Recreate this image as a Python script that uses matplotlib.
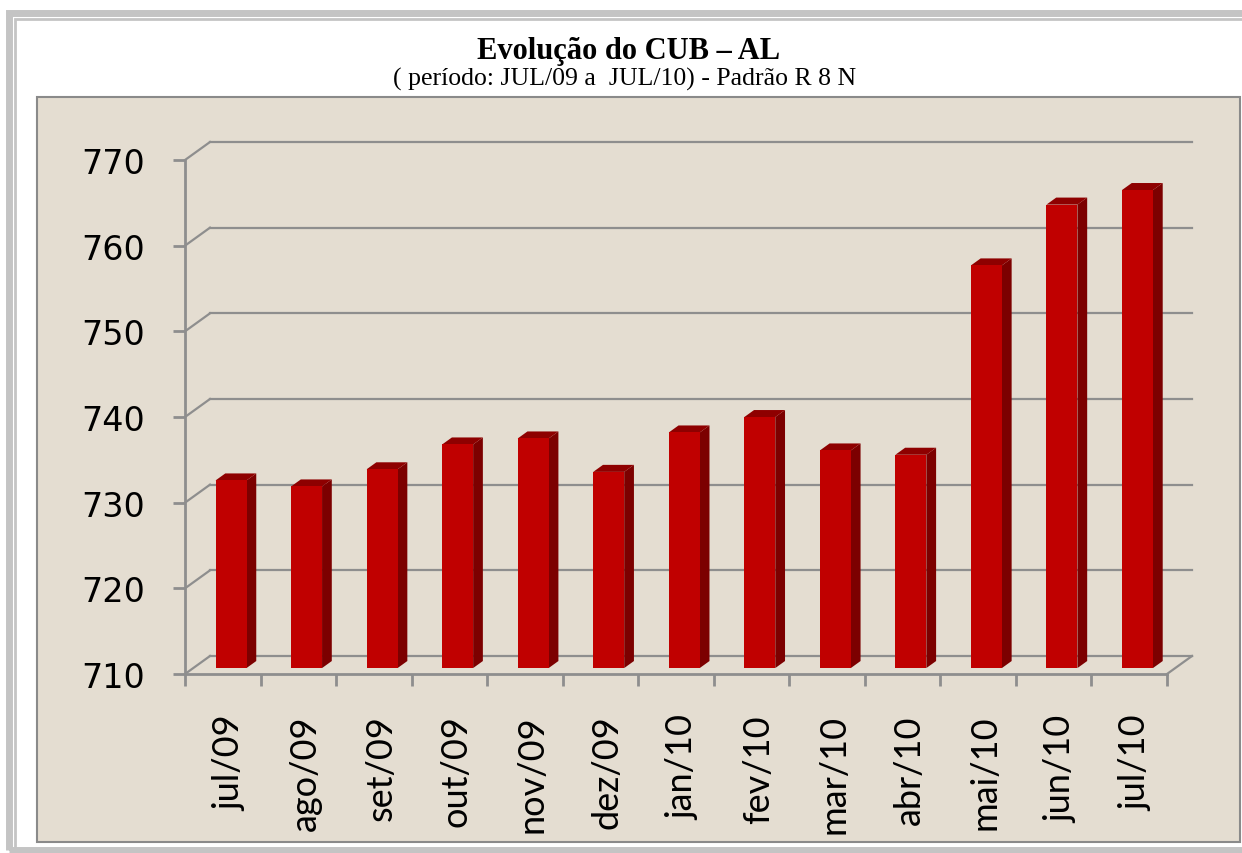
import numpy as np
import matplotlib.pyplot as plt
from matplotlib.patches import Rectangle, Polygon

months = ["jul/09", "ago/09", "set/09", "out/09", "nov/09", "dez/09", "jan/10",
          "fev/10", "mar/10", "abr/10", "mai/10", "jun/10", "jul/10"]
cub = [731.9, 731.2, 733.2, 736.1, 736.8, 732.9, 737.5,
       739.3, 735.4, 734.9, 757.0, 764.1, 765.8]
y_ticks = [710, 720, 730, 740, 750, 760, 770]

W, H = 1242, 854
fig = plt.figure(figsize=(W / 100, H / 100), dpi=100)
fig.patch.set_facecolor("white")


def fx(x):
    return x / W


def fy(y):
    return 1 - y / H


# outer frame (gray band + thin inner line)
fig.patches.append(Rectangle((fx(8.5), fy(851)), fx(W + 20), (851 - 14) / H, transform=fig.transFigure,
                             fill=False, edgecolor="#c4c4c4", lw=5, zorder=-3))
fig.patches.append(Rectangle((fx(14.5), fy(H + 20)), fx(W + 20), (H + 20 - 20) / H, transform=fig.transFigure,
                             fill=False, edgecolor="#c4c4c4", lw=2, zorder=-3))
# beige chart panel
fig.patches.append(Rectangle((fx(37), fy(843)), fx(1240 - 37), (843 - 98) / H, transform=fig.transFigure,
                             facecolor="#e4ddd1", edgecolor="#8a8a8a", lw=1.5, zorder=-2))

fig.text(fx(629), fy(59), "Evolução do CUB – AL", ha="center", va="baseline",
         fontsize=22, fontweight="bold", family="Liberation Serif")
fig.text(fx(625), fy(86), "( período: JUL/09 a  JUL/10) - Padrão R 8 N", ha="center", va="baseline",
         fontsize=18.5, family="Liberation Serif")

# front plane of the 3D box
left, right, bottom, top = 185, 1167, 675, 161
ax = fig.add_axes([fx(left), fy(bottom), fx(right - left), (bottom - top) / H])
ax.patch.set_visible(False)
n = len(months)
ax.set_xlim(-0.5, n - 0.5)
ax.set_ylim(710, 770)

# depth offset in data units
dx = 25 / ((right - left) / n)
dy = 18 / ((bottom - top) / 60)
grid_c = "#8e8e8e"

for v in y_ticks:
    ax.plot([-0.5 + dx, n - 0.5 + dx], [v + dy, v + dy], color=grid_c, lw=1.6, clip_on=False, zorder=2)
    ax.plot([-0.5, -0.5 + dx], [v, v + dy], color=grid_c, lw=1.6, clip_on=False, zorder=2)
ax.plot([n - 0.5, n - 0.5 + dx], [710, 710 + dy], color=grid_c, lw=1.6, clip_on=False, zorder=2)

# bars
z0, z1, w = 0.33, 0.72, 0.41
ddx, ddy = (z1 - z0) * dx, (z1 - z0) * dy
xs = np.arange(n) + z0 * dx
vals = np.array(cub)
ax.bar(xs, vals - 710, bottom=710 + z0 * dy, width=w, color="#c00000", zorder=4, clip_on=False)
for x, v in zip(xs, vals):
    x0, x1 = x - w / 2, x + w / 2
    yb, yt = 710 + z0 * dy, v + z0 * dy
    ax.add_patch(Polygon([(x1, yb), (x1 + ddx, yb + ddy), (x1 + ddx, yt + ddy), (x1, yt)],
                         closed=True, facecolor="#7c0000", edgecolor="none", zorder=3, clip_on=False))
    ax.add_patch(Polygon([(x0, yt), (x1, yt), (x1 + ddx, yt + ddy), (x0 + ddx, yt + ddy)],
                         closed=True, facecolor="#8e0000", edgecolor="none", zorder=3, clip_on=False))

for s in ["top", "right"]:
    ax.spines[s].set_visible(False)
for s in ["left", "bottom"]:
    ax.spines[s].set_color(grid_c)
    ax.spines[s].set_linewidth(2)
    ax.spines[s].set_zorder(5)

ax.set_yticks(y_ticks)
ax.tick_params(axis="y", length=8.6, width=2, color=grid_c, pad=20, labelsize=24)
ax.set_xticks(np.arange(-0.5, n, 1))
ax.set_xticklabels([])
ax.tick_params(axis="x", which="major", length=8.6, width=2, color=grid_c)
ax.set_xticks(np.arange(n) + 0.28 * dx, minor=True)
ax.set_xticklabels(months, minor=True, rotation=90, fontsize=26, family="Lato")
ax.tick_params(axis="x", which="minor", length=0, pad=29)

fig.savefig("out.png", dpi=100, facecolor="white")
